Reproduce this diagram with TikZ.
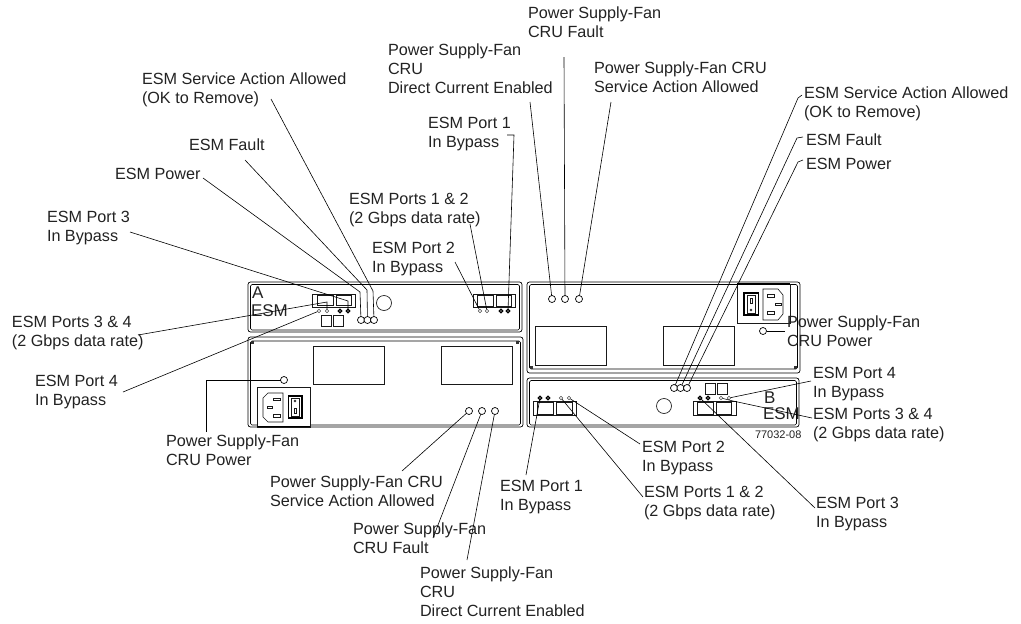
\documentclass[tikz,border=0pt]{standalone}
\usepackage{fontspec}
\setmainfont{Liberation Sans}
\definecolor{ink}{HTML}{222222}
\tikzset{
  lbl/.style={anchor=north west,inner sep=0pt,outer sep=0pt,align=left,text=ink,font=\fontsize{16.2}{19}\selectfont},
  panel/.style={draw=black,line width=0.7pt,rounded corners=2.5pt},
  inner panel/.style={draw=black,line width=0.6pt,rounded corners=1.5pt},
  hw/.style={draw=black!90,line width=0.6pt},
  window/.style={draw=black!90,line width=0.8pt},
  led/.style={circle,draw=black,line width=0.7pt,fill=white,inner sep=0pt,outer sep=0pt,minimum size=7pt},
  sled/.style={circle,draw=black!70,line width=0.6pt,fill=white,inner sep=0pt,outer sep=0pt,minimum size=3.5pt},
  dled/.style={circle,draw=black,line width=1.1pt,fill=white,inner sep=0pt,outer sep=0pt,minimum size=3.5pt},
  lead/.style={draw=black,line width=0.6pt}
}
\begin{document}
\begin{tikzpicture}[x=1pt,y=-1pt]
\useasboundingbox (0,0) rectangle (1021,624);
% ---------- ESM A
\draw[panel] (248,282) rectangle (522,332);
\draw[inner panel] (250.5,284.5) rectangle (519.5,330);
\draw[hw] (312,294) rectangle (355,307);
\draw[hw] (317,295) rectangle (333,305);
\draw[hw] (336,295) rectangle (351,305);
\draw[hw] (321,315) rectangle (331,326);
\draw[hw] (333,315) rectangle (343,326);
\draw[hw] (473,294) rectangle (515,307);
\draw[hw] (477,295) rectangle (493,306);
\draw[hw] (496,295) rectangle (511,306);
\node[circle,draw=black!85,line width=0.7pt,inner sep=0pt,minimum size=15pt] (bigA) at (384,303) {};
\node[lbl,font=\fontsize{17}{19}\selectfont] (letA) at (252,287) {A};
\node[lbl,font=\fontsize{17}{19}\selectfont] (esmA) at (251,305) {ESM};
% ---------- PSU lower left
\draw[panel] (248,337) rectangle (523,427);
\draw[inner panel] (250.5,341) rectangle (520.5,425);
\fill[black!80] (251,341) rectangle (254,344);
\fill[black!80] (515.5,341) rectangle (518.5,344);
\draw[window] (313,346) rectangle (384,384);
\draw[window] (441,346) rectangle (512,384);
\draw[hw,fill=white] (257,387) rectangle (310,427);
\draw[hw] (283,393) -- (268,393) -- (263,398) -- (263,417) -- (268,422) -- (283,422) -- cycle;
\draw[hw] (273,398) rectangle (280,400.5);
\draw[hw] (267,406) rectangle (272,408.5);
\draw[hw] (273,414) rectangle (280,417);
\draw[draw=black,line width=1.4pt] (288.5,396) rectangle (302,418);
\draw[hw] (291,398) rectangle (299,416);
\draw[hw] (295,401) circle (1pt);
\draw[hw] (294,408) rectangle (296,413);
\draw[black,line width=1.2pt] (257,426.5) -- (310,426.5);
% ---------- PSU upper right
\draw[panel] (527,282) rectangle (800,373);
\draw[inner panel] (529.5,284.5) rectangle (797.5,369);
\fill[black!80] (529.5,366) rectangle (532.5,369);
\fill[black!80] (793.5,366) rectangle (796.5,369);
\draw[window] (535,326) rectangle (606,365);
\draw[window] (663,326) rectangle (734,365);
\draw[hw,fill=white] (737,284) rectangle (790,323);
\draw[hw] (763,289) -- (778,289) -- (783,295) -- (783,314) -- (778,320) -- (763,320) -- cycle;
\draw[hw] (767,294) rectangle (774,297);
\draw[hw] (775,303) rectangle (781,305.5);
\draw[hw] (767,311) rectangle (774,314);
\draw[draw=black,line width=1.4pt] (744,293) rectangle (758.5,315);
\draw[hw] (747,295) rectangle (755,313);
\draw[hw] (751,310) circle (1pt);
\draw[hw] (750,298) rectangle (752,303);
\draw[black,line width=1.2pt] (737,284) -- (790,284);
% ---------- ESM B
\draw[panel] (527,378) rectangle (799,427);
\draw[inner panel] (529.5,380.5) rectangle (796.5,425);
\draw[hw] (533,401) rectangle (576,415);
\draw[hw] (537,402) rectangle (553,414);
\draw[hw] (556,402) rectangle (572,414);
\draw[hw] (693,401) rectangle (736,415);
\draw[hw] (697,402) rectangle (713,414);
\draw[hw] (716,402) rectangle (731,414);
\draw[hw] (705,383) rectangle (715,394);
\draw[hw] (717,383) rectangle (727,394);
\node[circle,draw=black!85,line width=0.7pt,inner sep=0pt,minimum size=15pt] (bigB) at (664,406) {};
\node[lbl,font=\fontsize{17}{19}\selectfont] (letB) at (764,392) {B};
\node[lbl,font=\fontsize{17}{19}\selectfont] (esmB) at (763,408) {ESM};
\node[lbl,font=\fontsize{11}{12}\selectfont] (code) at (755,431) {77032-08};
% ---------- LEDs
\node[sled] (a1) at (319,311) {};
\node[sled] (a2) at (327,311) {};
\node[dled] (a3) at (340,311) {};
\node[dled] (a4) at (348,311) {};
\node[led] (as1) at (361,320) {};
\node[led] (as2) at (367.5,320) {};
\node[led] (as3) at (374,320) {};
\node[sled] (a5) at (480,311) {};
\node[sled] (a6) at (487,311) {};
\node[dled] (a7) at (501,311) {};
\node[dled] (a8) at (508,311) {};
\node[led] (lp) at (284,380) {};
\node[led] (l1) at (469,411) {};
\node[led] (l2) at (482,411) {};
\node[led] (l3) at (495,411) {};
\node[led] (r1) at (552,299) {};
\node[led] (r2) at (565,299) {};
\node[led] (r3) at (579,299) {};
\node[led] (rp) at (763,331) {};
\node[led] (bs1) at (674,388) {};
\node[led] (bs2) at (680.5,388) {};
\node[led] (bs3) at (687,388) {};
\node[dled] (b1) at (540,398) {};
\node[dled] (b2) at (548,398) {};
\node[sled] (b3) at (561,398) {};
\node[sled] (b4) at (569,398) {};
\node[dled] (b5) at (700,398) {};
\node[dled] (b6) at (708,398) {};
\node[sled] (b7) at (721,398) {};
\node[sled] (b8) at (729,398) {};
% ---------- labels
\node[lbl] (t1) at (528,7) {Power Supply-Fan\\CRU Fault};
\node[lbl] (t2) at (388,44) {Power Supply-Fan\\CRU\\Direct Current Enabled};
\node[lbl] (t3) at (594,62) {Power Supply-Fan CRU\\Service Action Allowed};
\node[lbl] (t4) at (428,117) {ESM Port 1\\In Bypass};
\node[lbl] (t5) at (349,193) {ESM Ports 1 \& 2\\(2 Gbps data rate)};
\node[lbl] (t6) at (372,242) {ESM Port 2\\In Bypass};
\node[lbl] (w1) at (142,73) {ESM Service Action Allowed\\(OK to Remove)};
\node[lbl] (w2) at (189,139) {ESM Fault};
\node[lbl] (w3) at (115,168) {ESM Power};
\node[lbl] (w4) at (47,211) {ESM Port 3\\In Bypass};
\node[lbl] (w5) at (12,316) {ESM Ports 3 \& 4\\(2 Gbps data rate)};
\node[lbl] (w6) at (35,375) {ESM Port 4\\In Bypass};
\node[lbl] (w7) at (166,435) {Power Supply-Fan\\CRU Power};
\node[lbl] (s1) at (270,476) {Power Supply-Fan CRU\\Service Action Allowed};
\node[lbl] (s2) at (353,523) {Power Supply-Fan\\CRU Fault};
\node[lbl] (s3) at (420,567) {Power Supply-Fan\\CRU\\Direct Current Enabled};
\node[lbl] (s4) at (500,480) {ESM Port 1\\In Bypass};
\node[lbl] (s5) at (642,441) {ESM Port 2\\In Bypass};
\node[lbl] (s6) at (644,486) {ESM Ports 1 \& 2\\(2 Gbps data rate)};
\node[lbl] (s7) at (816,497) {ESM Port 3\\In Bypass};
\node[lbl] (e1) at (804,87) {ESM Service Action Allowed\\(OK to Remove)};
\node[lbl] (e2) at (806,134) {ESM Fault};
\node[lbl] (e3) at (806,158) {ESM Power};
\node[lbl] (e4) at (787,316) {Power Supply-Fan\\CRU Power};
\node[lbl] (e5) at (813,367) {ESM Port 4\\In Bypass};
\node[lbl] (e6) at (813,408) {ESM Ports 3 \& 4\\(2 Gbps data rate)};
% ---------- free ends of leaders
\coordinate (cw1) at (271,99);
\coordinate (cw2) at (245,160);
\coordinate (cw3) at (203,178);
\coordinate (cw4) at (130,232);
\coordinate (cw5) at (138,335);
\coordinate (cw6) at (123,392);
\coordinate (cw7) at (206,432);
\coordinate (ct1) at (564,57);
\coordinate (ct2) at (530,102);
\coordinate (ct3) at (611,102);
\coordinate (ct4) at (507,135);
\coordinate (ct5) at (470,224);
\coordinate (ct6) at (455,262);
\coordinate (cs1) at (402,471);
\coordinate (cs2) at (433,538);
\coordinate (cs3) at (467,560);
\coordinate (cs4) at (526,475);
\coordinate (cs5) at (640,444);
\coordinate (cs6) at (643,497);
\coordinate (cs7) at (815,508);
\coordinate (ce1) at (802,95);
\coordinate (ce2) at (803,137);
\coordinate (ce3) at (803,160);
\coordinate (ce4) at (785,331);
\coordinate (ce5) at (811,381);
\coordinate (ce6) at (812,418);
% ---------- leaders
\draw[lead] (cw1) -- (373,291) -- (as3);
\draw[lead] (cw2) -- (367,290) -- (as2);
\draw[lead] (cw3) -- (360,292) -- (as1);
\draw[lead] (cw4) -- (348,301) -- (a4);
\draw[lead] (cw5) -- (327,302) -- (a2);
\draw[lead] (cw6) -- (a1);
\draw[lead] (cw7) -- (206,380) -- (lp);
\draw[lead] (ct1) -- (r2);
\draw[lead] (ct2) -- (r1);
\draw[lead] (ct3) -- (r3);
\draw[lead] (ct4) -- (514,135) -- (a8);
\draw[lead] (ct5) -- (a6);
\draw[lead] (ct6) -- (a5);
\draw[lead] (cs1) -- (l1);
\draw[lead] (cs2) -- (l2);
\draw[lead] (cs3) -- (l3);
\draw[lead] (cs4) -- (b1);
\draw[lead] (cs5) -- (b4);
\draw[lead] (cs6) -- (b3);
\draw[lead] (cs7) -- (b5);
\draw[lead] (ce1) -- (798,98) -- (bs1);
\draw[lead] (ce2) -- (797,138) -- (bs2);
\draw[lead] (ce3) -- (798,162) -- (bs3);
\draw[lead] (ce4) -- (rp);
\draw[lead] (ce5) -- (b8);
\draw[lead] (ce6) -- (733,401) -- (b7);
\end{tikzpicture}
\end{document}
